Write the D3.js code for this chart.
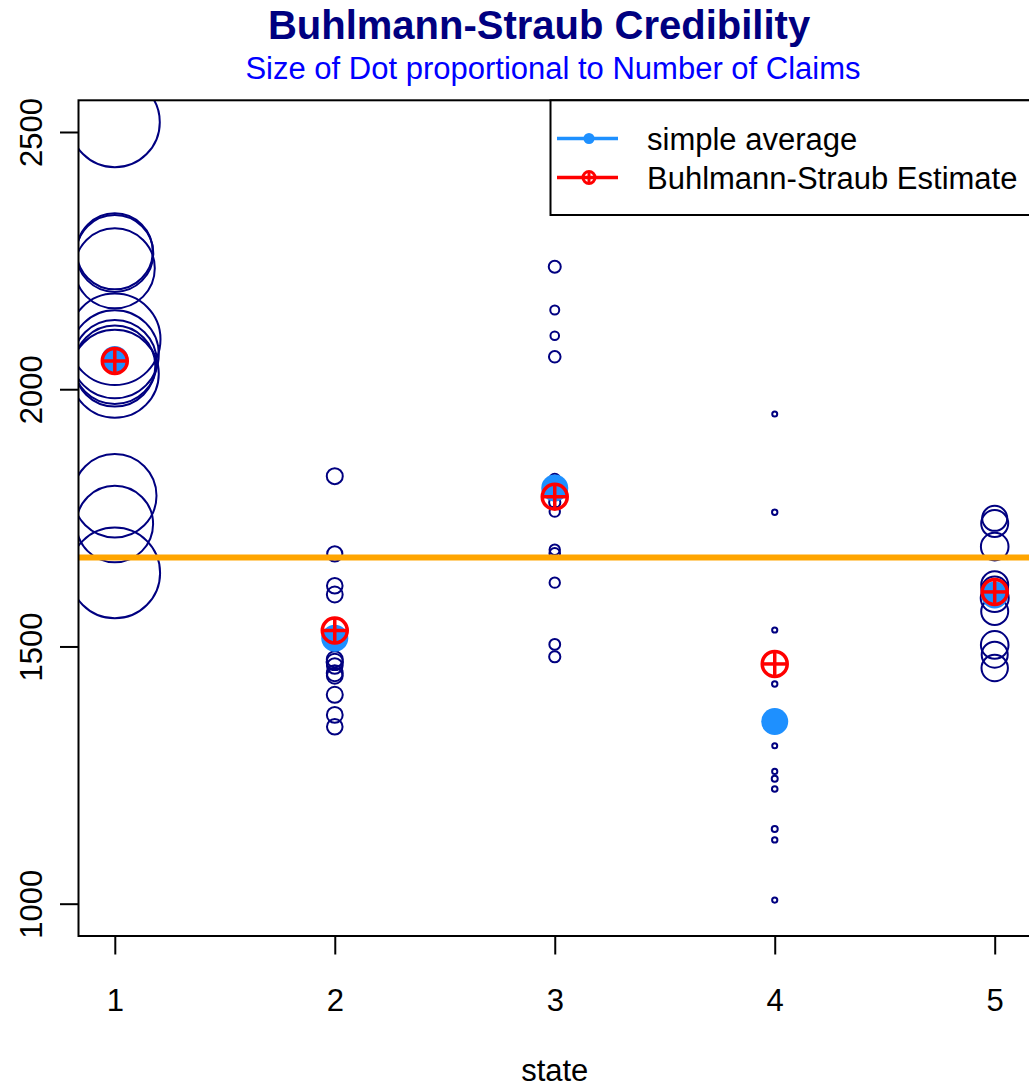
<!DOCTYPE html>
<html>
<head>
<meta charset="utf-8">
<script src="https://cdn.jsdelivr.net/npm/d3@7"></script>
<style>
  body { margin: 0; background: #fff; }
  svg { display: block; font-family: "Liberation Sans", Arial, sans-serif; }
</style>
</head>
<body>
<svg id="chart" width="1029" height="1089"></svg>
<script>
// pure premium per state, one entry per observation
var states = [1, 2, 3, 4, 5];
var rates = [
    [2519, 2268, 2264, 2235, 2097, 2068, 2053, 2045, 2030, 1793, 1738, 1643],
    [1831, 1680, 1618, 1601, 1475, 1470, 1462, 1448, 1443, 1406, 1367, 1344],
    [2238, 2154, 2104, 2063, 1825, 1812, 1795, 1780, 1762, 1688, 1681, 1624, 1504, 1480],
    [1952, 1761, 1532, 1427, 1307, 1257, 1243, 1223, 1145, 1124, 1007],
    [1749, 1739, 1694, 1620, 1610, 1594, 1568, 1503, 1484, 1458]
];
// number of claims behind each observation (dot size)
var claims = [
    [4500, 3800, 3850, 4000, 4570, 4400, 4200, 4050, 4400, 4170, 3830, 4530],
    [800, 760, 780, 790, 800, 820, 780, 800, 790, 800, 790, 780],
    [600, 450, 430, 580, 550, 560, 570, 560, 520, 520, 530, 520, 540, 560],
    [250, 270, 260, 270, 250, 260, 300, 280, 300, 270, 260],
    [1250, 1350, 1380, 1350, 1330, 1400, 1350, 1380, 1300, 1320]
];
var simpleAvg = [2058, 1516, 1808, 1354, 1600];
var bsEstimate = [2055, 1531, 1791, 1466, 1606];
var grandMean = 1673;
var yTicks = [1000, 1500, 2000, 2500];
var legendLabels = ["simple average", "Buhlmann-Straub Estimate"];

var svg = d3.select("#chart");
var pLeft = 78.5, pRight = 1031, pTop = 100.3, pBottom = 936;

var x = d3.scaleLinear().domain([0.835, 5.165]).range([pLeft, pRight]);
var y = d3.scaleLinear().domain([937.2, 2561.6]).range([pBottom, pTop]);
var r = d3.scaleLinear().domain([0, 1000]).range([0, 10]);

var navy = "#000080";

svg.append("defs").append("clipPath")
    .attr("id", "plotClip")
    .append("rect")
    .attr("x", pLeft).attr("y", pTop)
    .attr("width", pRight - pLeft).attr("height", pBottom - pTop);

// titles
svg.append("text")
    .attr("x", 539)
    .attr("y", 39)
    .attr("text-anchor", "middle")
    .style("font-size", "40px")
    .style("font-weight", "bold")
    .style("fill", navy)
    .text("Buhlmann-Straub Credibility");

svg.append("text")
    .attr("x", 553)
    .attr("y", 79)
    .attr("text-anchor", "middle")
    .style("font-size", "31px")
    .style("fill", "#0000ff")
    .text("Size of Dot proportional to Number of Claims");

var plotG = svg.append("g").attr("clip-path", "url(#plotClip)");

// observations
var pts = [];
for (var i = 0; i < states.length; i++) {
    for (var j = 0; j < rates[i].length; j++) {
        pts.push({ state: states[i], rate: rates[i][j], claims: claims[i][j] });
    }
}

plotG.selectAll(".obs")
    .data(pts)
    .enter()
    .append("circle")
    .attr("class", "obs")
    .attr("cx", function (d) { return x(d.state); })
    .attr("cy", function (d) { return y(d.rate); })
    .attr("r", function (d) { return r(d.claims); })
    .style("fill", "none")
    .style("stroke", navy)
    .style("stroke-width", 2);

// overall mean
plotG.append("line")
    .attr("x1", pLeft).attr("x2", pRight)
    .attr("y1", y(grandMean)).attr("y2", y(grandMean))
    .style("stroke", "#ffa500")
    .style("stroke-width", 6);

// simple averages
plotG.selectAll(".avg")
    .data(simpleAvg)
    .enter()
    .append("circle")
    .attr("class", "avg")
    .attr("cx", function (d, i) { return x(states[i]); })
    .attr("cy", function (d) { return y(d); })
    .attr("r", 13.5)
    .style("fill", "#1e90ff");

function crossCircle(g, cx, cy, rad, sw) {
    g.append("circle")
        .attr("cx", cx).attr("cy", cy).attr("r", rad)
        .style("fill", "none").style("stroke", "#ff0000").style("stroke-width", sw);
    g.append("line")
        .attr("x1", cx - rad).attr("x2", cx + rad).attr("y1", cy).attr("y2", cy)
        .style("stroke", "#ff0000").style("stroke-width", sw);
    g.append("line")
        .attr("x1", cx).attr("x2", cx).attr("y1", cy - rad).attr("y2", cy + rad)
        .style("stroke", "#ff0000").style("stroke-width", sw);
}

// credibility estimates
bsEstimate.forEach(function (d, i) {
    crossCircle(plotG, x(states[i]), y(d), 12.5, 3.5);
});

// axes
var yAxis = svg.append("g")
    .attr("transform", "translate(" + pLeft + ",0)")
    .call(d3.axisLeft(y).tickValues(yTicks).tickSize(18.5).tickSizeOuter(0).tickFormat(d3.format("d")));
yAxis.select(".domain").remove();
yAxis.selectAll("line").style("stroke", "#000").style("stroke-width", 2);
yAxis.selectAll("text")
    .attr("x", 0).attr("dy", null)
    .attr("text-anchor", "middle")
    .attr("transform", "translate(-37,0) rotate(-90)")
    .style("font-family", "'Liberation Sans', Arial, sans-serif")
    .style("font-size", "31px")
    .style("fill", "#000");

var xAxis = svg.append("g")
    .attr("transform", "translate(0," + pBottom + ")")
    .call(d3.axisBottom(x).tickValues(states).tickSize(18.5).tickSizeOuter(0).tickFormat(d3.format("d")));
xAxis.select(".domain").remove();
xAxis.selectAll("line").style("stroke", "#000").style("stroke-width", 2);
xAxis.selectAll("text")
    .attr("y", 75).attr("dy", null)
    .style("font-family", "'Liberation Sans', Arial, sans-serif")
    .style("font-size", "31px")
    .style("fill", "#000");

svg.append("text")
    .attr("x", (pLeft + pRight) / 2)
    .attr("y", 1081)
    .attr("text-anchor", "middle")
    .style("font-size", "31px")
    .text("state");

// plot box
svg.append("rect")
    .attr("x", pLeft).attr("y", pTop)
    .attr("width", pRight - pLeft).attr("height", pBottom - pTop)
    .style("fill", "none").style("stroke", "#000").style("stroke-width", 2);

// legend
var legG = svg.append("g");
legG.append("rect")
    .attr("x", 550.5).attr("y", pTop)
    .attr("width", pRight - 550.5).attr("height", 215 - pTop)
    .style("fill", "#fff").style("stroke", "#000").style("stroke-width", 2);

var legY = [138.5, 177.5];
var legColors = ["#1e90ff", "#ff0000"];
legendLabels.forEach(function (lab, i) {
    legG.append("line")
        .attr("x1", 557).attr("x2", 618)
        .attr("y1", legY[i]).attr("y2", legY[i])
        .style("stroke", legColors[i]).style("stroke-width", 3.5);
    if (i === 0) {
        legG.append("circle")
            .attr("cx", 589).attr("cy", legY[i]).attr("r", 5.5)
            .style("fill", legColors[i]);
    } else {
        crossCircle(legG, 589, legY[i], 6, 3);
    }
    legG.append("text")
        .attr("x", 647)
        .attr("y", legY[i])
        .attr("dy", "0.36em")
        .style("font-size", "31px")
        .text(lab);
});
</script>
</body>
</html>
